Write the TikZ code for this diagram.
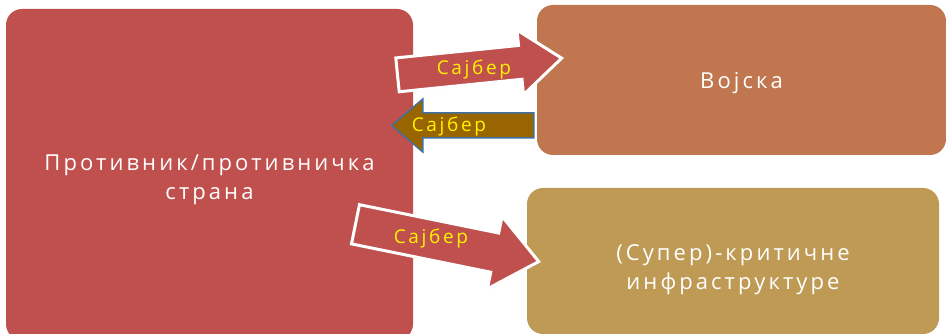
\documentclass[tikz,border=0pt]{standalone}
\usepackage{fontspec}
\setmainfont[LetterSpace=14]{Open Sans}
\usetikzlibrary{shapes.arrows, calc, shadows}

\definecolor{enemyred}{HTML}{C0504D}
\definecolor{armybrown}{HTML}{C0774F}
\definecolor{infragold}{HTML}{BE9A55}
\definecolor{cyberbrown}{HTML}{996500}
\definecolor{edgeblue}{HTML}{41719C}

% extra room above the first line, to set the text a little lower
\newcommand{\padtop}[1]{\rule{0pt}{#1}}

\tikzset{
  block/.style={rounded corners=16pt, text=white, align=center, inner sep=0pt,
    font=\fontsize{22}{29}\selectfont},
  cyberarrow/.style={single arrow, fill=enemyred, draw=white, line width=3pt, inner xsep=0pt,
    drop shadow={shadow xshift=1pt, shadow yshift=-1pt, opacity=0.35}},
  cyberlabel/.style={text=yellow, inner sep=0pt, font=\fontsize{19}{21}\selectfont},
}

\begin{document}
\begin{tikzpicture}[x=1pt, y=-1pt]
    \useasboundingbox (0,0) rectangle (946,334);

    \node[block, fill=enemyred, minimum width=407pt, minimum height=331pt] (enemy) at (209.5,174.5) {\padtop{27pt}Противник/противничка\\страна};
    \node[block, fill=armybrown, minimum width=409pt, minimum height=150pt] (army) at (741.5,80) {\padtop{22pt}Војска};
    \node[block, fill=infragold, minimum width=412pt, minimum height=146pt] (infra) at (733,261) {\padtop{34pt}(Супер)-критичне\\инфраструктуре};

    \node[cyberarrow, anchor=tail, inner ysep=15.5pt, minimum height=165pt, single arrow head extend=15.5pt, single arrow tip angle=76, rotate=5.8] (cyberTop) at (396,75) {};
    \node[single arrow, anchor=tail, fill=cyberbrown, draw=edgeblue, line width=1.5pt, inner xsep=0pt, inner ysep=11.75pt, minimum height=142pt, single arrow head extend=14pt, single arrow tip angle=81, shape border rotate=180] (cyberBack) at (534.5,125.5) {};
    \node[cyberarrow, anchor=tail, inner ysep=18.5pt, minimum height=187pt, single arrow head extend=17pt, single arrow tip angle=79, rotate=-11.5] (cyberLow) at (354,224) {};

    \node[cyberlabel] (labelTop) at (474,70) {Сајбер};
    \node[cyberlabel] (labelBack) at (449,127) {Сајбер};
    \node[cyberlabel] (labelLow) at (431,239) {Сајбер};
\end{tikzpicture}
\end{document}
